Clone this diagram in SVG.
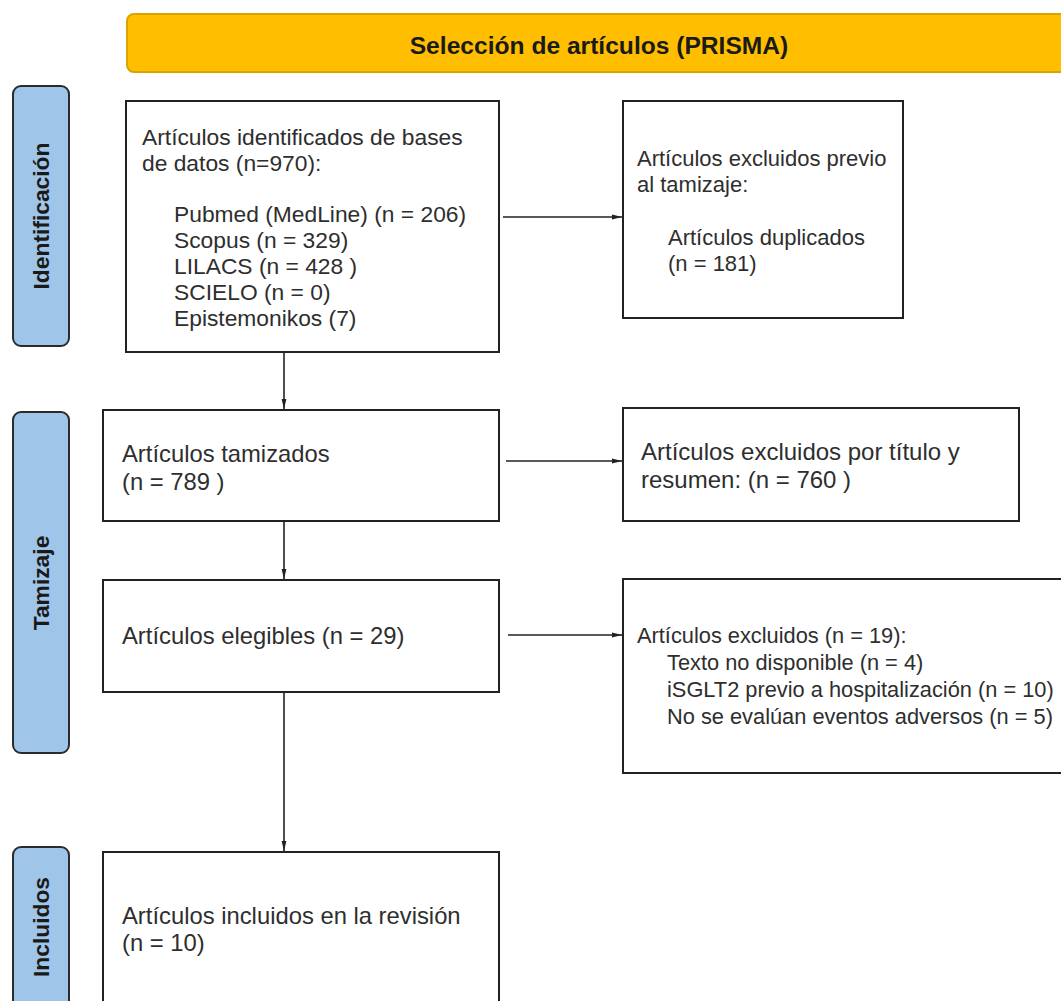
<svg xmlns="http://www.w3.org/2000/svg" width="1061" height="1001" viewBox="0 0 1061 1001">
<defs>
<marker id="ah" markerWidth="10" markerHeight="6" refX="10" refY="3" orient="auto" markerUnits="userSpaceOnUse">
<path d="M0,0.6 L10,3 L0,5.4 Z" fill="#222"/>
</marker>
<style>
.box{fill:#fff;stroke:#222;stroke-width:2}
.lab{fill:#9fc5e8;stroke:#2b2b2b;stroke-width:2}
.t{font-family:"Liberation Sans",Arial,sans-serif;fill:#2e2e2e}
.b{font-family:"Liberation Sans",Arial,sans-serif;font-weight:bold;fill:#1a1a1a}
.c{fill:none;stroke:#222;stroke-width:1.6}
</style>
</defs>
<rect width="1061" height="1001" fill="#fff"/>

<g id="header">
<rect x="127" y="14" width="944" height="58" rx="7" fill="#ffbf00" stroke="#d9a400" stroke-width="2"/>
<text class="b" x="599" y="54" font-size="24.6" text-anchor="middle">Selección de artículos (PRISMA)</text>
</g>

<g id="lab-identificacion">
<rect class="lab" x="13" y="86" width="56" height="260" rx="8"/>
<text class="b" font-size="22.8" text-anchor="middle" transform="translate(49,216) rotate(-90)">Identificación</text>
</g>
<g id="lab-tamizaje">
<rect class="lab" x="13" y="412" width="56" height="341" rx="8"/>
<text class="b" font-size="22.8" text-anchor="middle" transform="translate(49,583) rotate(-90)">Tamizaje</text>
</g>
<g id="lab-incluidos">
<rect class="lab" x="13" y="847" width="56" height="170" rx="8"/>
<text class="b" font-size="22.8" text-anchor="middle" transform="translate(49,927) rotate(-90)">Incluidos</text>
</g>

<g id="identificados">
<rect class="box" x="126" y="101" width="373" height="251"/>
<text class="t" font-size="22.8">
<tspan x="142" y="145">Artículos identificados de bases</tspan>
<tspan x="142" y="171">de datos (n=970):</tspan>
<tspan x="174" y="222">Pubmed (MedLine) (n = 206)</tspan>
<tspan x="174" y="248">Scopus (n = 329)</tspan>
<tspan x="174" y="274">LILACS (n = 428 )</tspan>
<tspan x="174" y="300">SCIELO (n = 0)</tspan>
<tspan x="174" y="326">Epistemonikos (7)</tspan>
</text>
</g>

<g id="excluidos-previo">
<rect class="box" x="623" y="101" width="280" height="217"/>
<text class="t" font-size="22">
<tspan x="637" y="166">Artículos excluidos previo</tspan>
<tspan x="637" y="192">al tamizaje:</tspan>
<tspan x="668" y="245">Artículos duplicados</tspan>
<tspan x="668" y="271">(n = 181)</tspan>
</text>
</g>

<g id="tamizados">
<rect class="box" x="103" y="410" width="396" height="111"/>
<text class="t" font-size="23.8">
<tspan x="122" y="462">Artículos tamizados</tspan>
<tspan x="122" y="490">(n = 789 )</tspan>
</text>
</g>

<g id="excluidos-titulo">
<rect class="box" x="623" y="408" width="396" height="113"/>
<text class="t" font-size="24">
<tspan x="641" y="460">Artículos excluidos por título y</tspan>
<tspan x="641" y="488">resumen: (n = 760 )</tspan>
</text>
</g>

<g id="elegibles">
<rect class="box" x="103" y="580" width="396" height="112"/>
<text class="t" font-size="23.8" x="122" y="644">Artículos elegibles (n = 29)</text>
</g>

<g id="excluidos-19">
<rect class="box" x="623" y="579" width="450" height="194"/>
<text class="t" font-size="21.8">
<tspan x="637" y="643">Artículos excluidos (n = 19):</tspan>
<tspan x="667" y="670">Texto no disponible (n = 4)</tspan>
<tspan x="667" y="697">iSGLT2 previo a hospitalización (n = 10)</tspan>
<tspan x="667" y="724">No se evalúan eventos adversos (n = 5)</tspan>
</text>
</g>

<g id="incluidos">
<rect class="box" x="103" y="852" width="396" height="170"/>
<text class="t" font-size="23.8">
<tspan x="122" y="924">Artículos incluidos en la revisión</tspan>
<tspan x="122" y="951">(n = 10)</tspan>
</text>
</g>

<g id="connectors">
<line class="c" x1="503" y1="217" x2="622" y2="217" marker-end="url(#ah)"/>
<line class="c" x1="284" y1="352" x2="284" y2="409" marker-end="url(#ah)"/>
<line class="c" x1="506" y1="461" x2="622" y2="461" marker-end="url(#ah)"/>
<line class="c" x1="284" y1="521" x2="284" y2="579" marker-end="url(#ah)"/>
<line class="c" x1="508" y1="635" x2="622" y2="635" marker-end="url(#ah)"/>
<line class="c" x1="284" y1="692" x2="284" y2="851" marker-end="url(#ah)"/>
</g>
</svg>
